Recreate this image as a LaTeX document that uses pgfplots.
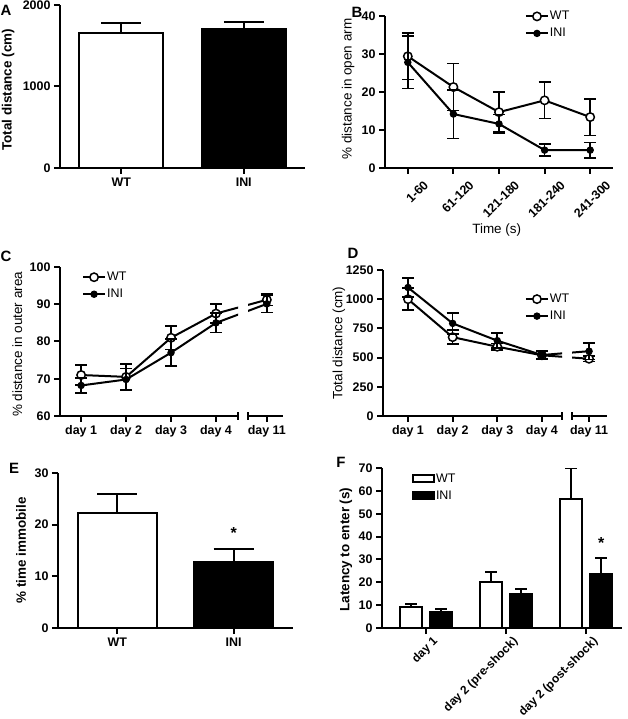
\documentclass[border=0pt]{standalone}
\usepackage{fontspec}
\setmainfont{Liberation Sans}
\usepackage{pgfplots}
\pgfplotsset{compat=1.18}
\newcommand\tf{\fontsize{12.5}{13}\selectfont\bfseries}
\newcommand\tfs{\fontsize{12}{12.5}\selectfont\bfseries}
\newcommand\lf{\fontsize{13.5}{14}\selectfont}
\newcommand\lfb{\fontsize{13.5}{14}\selectfont\bfseries}
\newcommand\gf{\fontsize{12.5}{13}\selectfont}
\newcommand\pf{\fontsize{15}{16}\selectfont\bfseries}
\pgfplotsset{
  gp/.style={
    scale only axis,
    axis x line=bottom, axis y line=left,
    axis line style={-, line width=2bp, black},
    every outer x axis line/.append style={-},
    every outer y axis line/.append style={-},
    tick style={line width=2bp, black},
    major tick length=6bp,
    tick align=outside,
    ticklabel style={font=\tf},
    /pgf/number format/assume math mode=true,
    /pgf/number format/1000 sep={},
    scaled ticks=false,
    clip marker paths=true,
    legend style={draw=none, fill=none, inner sep=0pt, outer sep=0pt,
      row sep=4bp, font=\gf, anchor=north west,
      nodes={inner sep=1bp, text height=9bp, text depth=2bp}},
    legend cell align=left,
    legend image code/.code={\draw[mark repeat=2,mark phase=2,##1] plot coordinates {(0bp,0bp) (11bp,0bp) (22bp,0bp)};},
  },
  ebp/.style={error bars/.cd, y dir=plus, y explicit,
    error bar style={line width=2bp, black},
    error mark options={rotate=90, line width=2bp, mark size=#1, black}},
  ebb/.style={error bars/.cd, y dir=both, y explicit,
    error bar style={line width=1.6bp, black},
    error mark options={rotate=90, line width=1.6bp, mark size=#1, black}},
  wt/.style={black, line width=2bp, mark=*, mark size=4.2bp, mark options={fill=white, line width=1.5bp}},
  ini/.style={black, line width=2bp, mark=*, mark size=3.2bp, mark options={fill=black, line width=1bp}},
  boxleg/.style={legend image code/.code={\draw[##1,/tikz/.cd,line width=2bp] (0bp,-3.5bp) rectangle (21bp,3.5bp);}},
}
\begin{document}
\begin{tikzpicture}
\useasboundingbox (0,0) rectangle (628bp,719bp);
% Panel letters
\node[font=\pf] at (6bp,709bp) {A};
\node[font=\pf] at (357bp,707bp) {B};
\node[font=\pf] at (6bp,463bp) {C};
\node[font=\pf] at (353bp,466bp) {D};
\node[font=\pf] at (14bp,251bp) {E};
\node[font=\pf] at (341bp,257bp) {F};

% ---------- A ----------
\begin{axis}[gp, at={(60bp,551bp)}, anchor=south west, width=245bp, height=163bp,
  xmin=-0.5, xmax=1.5, ymin=0, ymax=2000, ytick={0,1000,2000},
  xtick={0,1}, xticklabels={WT,INI},
  ylabel={Total distance (cm)}, ylabel style={font=\lfb, at={(axis description cs:-0.212,0.48)}, anchor=center}]
\addplot[ybar, bar width=84bp, bar shift=0bp, fill=white, draw=black, line width=2bp, ebp=20bp]
  coordinates {(0,1660) +- (0,120)};
\addplot[ybar, bar width=84bp, bar shift=0bp, fill=black, draw=black, line width=2bp, ebp=20bp]
  coordinates {(1,1705) +- (0,90)};
\end{axis}

% ---------- B ----------
\begin{axis}[gp, at={(385bp,551bp)}, anchor=south west, width=228bp, height=152bp,
  xmin=-0.5, xmax=4.5, ymin=0, ymax=40, ytick={0,10,20,30,40},
  xtick={0,1,2,3,4}, xticklabels={1-60,61-120,121-180,181-240,241-300},
  xticklabel style={xshift=15bp, yshift=-1bp, rotate=45, anchor=north east},
  ylabel={\% distance in open arm}, ylabel style={font=\lf, at={(axis description cs:-0.162,0.52)}, anchor=center},
  xlabel={Time (s)}, xlabel style={font=\lf, at={(axis description cs:0.49,-0.405)}, anchor=center},
  legend style={at={(rel axis cs:0.614,1.04)}}]
\addplot[wt, ebb=6bp] coordinates {(0,29.4) +- (0,6.1) (1,21.3) +- (0,6.2) (2,14.7) +- (0,5.3) (3,17.8) +- (0,4.8) (4,13.4) +- (0,4.8)};
\addplot[ini, ebb=6bp] coordinates {(0,27.8) +- (0,6.9) (1,14.2) +- (0,6.4) (2,11.6) +- (0,2.5) (3,4.7) +- (0,1.6) (4,4.7) +- (0,2.0)};
\legend{WT,INI}
\end{axis}

% ---------- C (broken axis) ----------
\begin{axis}[gp, at={(60bp,303bp)}, anchor=south west, width=178bp, height=149bp,
  xmin=-0.47, xmax=3.49, ymin=60, ymax=100, ytick={60,70,80,90,100},
  xtick={0,1,2,3}, xticklabels={day 1,day 2,day 3,day 4},
  extra x ticks={3.49}, extra x tick labels={}, extra x tick style={tick align=center, major tick length=8bp},
  ylabel={\% distance in outer area}, ylabel style={font=\lf, at={(axis description cs:-0.24,0.48)}, anchor=center},
  legend style={at={(rel axis cs:0.124,0.975)}}]
\addplot[wt, ebb=6bp] coordinates {(0,71) +- (0,2.7) (1,70.5) +- (0,3.4) (2,81) +- (0,3.2) (3,87.5) +- (0,2.6) (4.13,91.2) +- (0,1.5)};
\addplot[ini, ebb=6bp] coordinates {(0,68.2) +- (0,2) (1,69.8) +- (0,2.9) (2,77) +- (0,3.6) (3,85) +- (0,2.6) (4.13,90.1) +- (0,2.3)};
\legend{WT,INI}
\end{axis}
\begin{axis}[gp, at={(248bp,303bp)}, anchor=south west, width=35bp, height=149bp,
  axis y line=none, ytick=\empty,
  xmin=3.71, xmax=4.49, ymin=60, ymax=100,
  xtick={4.13}, xticklabels={day 11},
  extra x ticks={3.71}, extra x tick labels={}, extra x tick style={tick align=center, major tick length=8bp}]
\addplot[wt, ebb=6bp] coordinates {(3,87.5) +- (0,2.6) (4.13,91.2) +- (0,1.5)};
\addplot[ini, ebb=6bp] coordinates {(3,85) +- (0,2.6) (4.13,90.1) +- (0,2.3)};
\end{axis}

% ---------- D (broken axis) ----------
\begin{axis}[gp, at={(383bp,303bp)}, anchor=south west, width=179bp, height=146bp,
  xmin=-0.56, xmax=3.45, ymin=0, ymax=1250, ytick={0,250,500,750,1000,1250},
  xtick={0,1,2,3}, xticklabels={day 1,day 2,day 3,day 4},
  extra x ticks={3.45}, extra x tick labels={}, extra x tick style={tick align=center, major tick length=8bp},
  ylabel={Total distance (cm)}, ylabel style={font=\lf, at={(axis description cs:-0.246,0.5)}, anchor=center},
  legend style={at={(rel axis cs:0.793,0.845)}}]
\addplot[wt, ebb=6bp] coordinates {(0,1000) +- (0,95) (1,675) +- (0,60) (2,593) +- (0,28) (3,520) +- (0,35) (4.05,490) +- (0,25)};
\addplot[ini, ebb=6bp] coordinates {(0,1100) +- (0,80) (1,793) +- (0,90) (2,645) +- (0,65) (3,522) +- (0,35) (4.05,555) +- (0,70)};
\legend{WT,INI}
\end{axis}
\begin{axis}[gp, at={(572bp,303bp)}, anchor=south west, width=35bp, height=146bp,
  axis y line=none, ytick=\empty,
  xmin=3.67, xmax=4.45, ymin=0, ymax=1250,
  xtick={4.05}, xticklabels={day 11},
  extra x ticks={3.67}, extra x tick labels={}, extra x tick style={tick align=center, major tick length=8bp}]
\addplot[wt, ebb=6bp] coordinates {(3,520) +- (0,35) (4.05,490) +- (0,25)};
\addplot[ini, ebb=6bp] coordinates {(3,522) +- (0,35) (4.05,555) +- (0,70)};
\end{axis}

% ---------- E ----------
\begin{axis}[gp, at={(58bp,91bp)}, anchor=south west, width=235bp, height=155bp,
  xmin=-0.51, xmax=1.51, ymin=0, ymax=30, ytick={0,10,20,30},
  xtick={0,1}, xticklabels={WT,INI},
  ylabel={\% time immobile}, ylabel style={font=\lfb, at={(axis description cs:-0.157,0.5)}, anchor=center}]
\addplot[ybar, bar width=79bp, bar shift=0bp, fill=white, draw=black, line width=2bp, ebp=20bp]
  coordinates {(0,22.2) +- (0,3.7)};
\addplot[ybar, bar width=79bp, bar shift=0bp, fill=black, draw=black, line width=2bp, ebp=20bp]
  coordinates {(1,12.8) +- (0,2.4)};
\node[font=\fontsize{16}{16}\selectfont\bfseries] at (axis cs:1,18.3) {*};
\end{axis}

% ---------- F ----------
\begin{axis}[gp, at={(382bp,91bp)}, anchor=south west, width=240bp, height=160bp,
  xmin=-0.55, xmax=2.45, ymin=0, ymax=70, ytick={0,10,...,70},
  xtick={0,1,2}, xticklabels={day 1,day 2 (pre-shock),day 2 (post-shock)},
  xticklabel style={font=\tfs, xshift=6bp, yshift=3bp, rotate=45, anchor=north east},
  ylabel={Latency to enter (s)}, ylabel style={font=\lfb, at={(axis description cs:-0.15,0.49)}, anchor=center},
  legend style={at={(rel axis cs:0.125,0.975)}}]
\addplot[ybar, bar width=22bp, bar shift=0bp, fill=white, draw=black, line width=2bp, boxleg, ebp=6bp]
  coordinates {(-0.1875,9.2) +- (0,1.2) (0.8125,20.1) +- (0,4.4) (1.8125,56.6) +- (0,13.3)};
\addplot[ybar, bar width=22bp, bar shift=0bp, fill=black, draw=black, line width=2bp, boxleg, ebp=6bp]
  coordinates {(0.1875,7.0) +- (0,1.5) (1.1875,14.7) +- (0,2.5) (2.1875,23.5) +- (0,7.1)};
\node[font=\fontsize{16}{16}\selectfont\bfseries] at (axis cs:2.19,37) {*};
\legend{WT,INI}
\end{axis}
\end{tikzpicture}
\end{document}
